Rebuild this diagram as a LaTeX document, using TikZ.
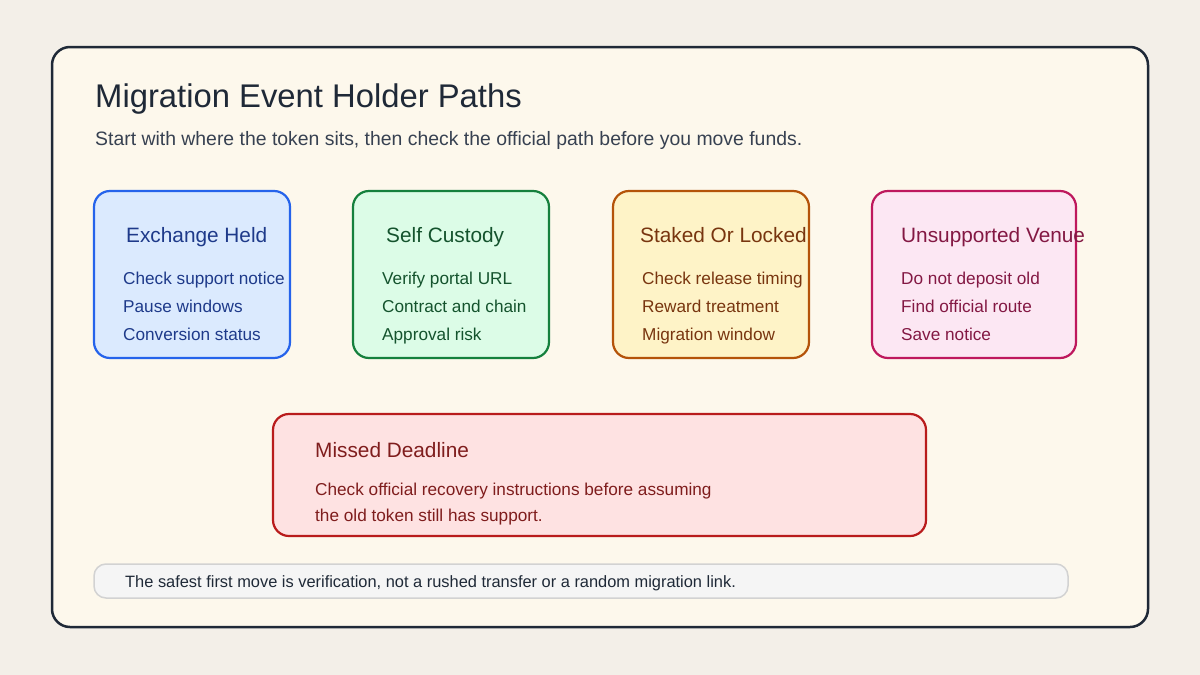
\documentclass[tikz,border=0pt]{standalone}
\usepackage{fontspec}
\setmainfont{Liberation Sans}
\definecolor{pagebg}{HTML}{F3EFE8}
\definecolor{cardbg}{HTML}{FDF8EC}
\definecolor{ink}{HTML}{1F2937}
\definecolor{subink}{HTML}{374151}
\tikzset{
  lane/.style={rounded corners=16pt,line width=2.2pt},
  head/.style={anchor=base west,inner sep=0pt,font=\fontsize{20.8}{24}\selectfont},
  item/.style={anchor=base west,inner sep=0pt,font=\fontsize{17.2}{20}\selectfont},
}
\begin{document}
\begin{tikzpicture}[x=1pt,y=-1pt]
   \fill[pagebg] (0,0) rectangle (1200,675);
   \draw[ink,line width=2.5pt,fill=cardbg,rounded corners=18pt] (52,47) rectangle (1148,627);
   \node[anchor=base west,inner sep=0pt,text=ink,font=\fontsize{32.8}{38}\selectfont] (title) at (95,107) {Migration Event Holder Paths};
   \node[anchor=base west,inner sep=0pt,text=subink,font=\fontsize{19.4}{23}\selectfont] (subtitle) at (95,145) {Start with where the token sits, then check the official path before you move funds.};
   % holder lanes
   \foreach \xa/\xb/\hx/\fc/\sc/\tc/\ttl/\ia/\ib/\ic/\nm in {
      94/290/32/DBEAFE/2563EB/1E3A8A/Exchange Held/Check support notice/Pause windows/Conversion status/exch,
      353/549/33/DCFCE7/15803D/14532D/Self Custody/Verify portal URL/Contract and chain/Approval risk/self,
      613/809/27/FEF3C7/B45309/78350F/Staked Or Locked/Check release timing/Reward treatment/Migration window/stake,
      872/1076/29/FCE7F3/BE185D/831843/Unsupported Venue/Do not deposit old/Find official route/Save notice/venue}{
     \definecolor{lf}{HTML}{\fc}\definecolor{ls}{HTML}{\sc}\definecolor{lt}{HTML}{\tc}
     \draw[lane,draw=ls,fill=lf] (\xa,191) rectangle (\xb,358);
     \node[head,text=lt] (\nm-h) at (\xa+\hx,242) {\ttl};
     \node[item,text=lt] (\nm-a) at (\xa+29,284) {\ia};
     \node[item,text=lt] (\nm-b) at (\xa+29,312) {\ib};
     \node[item,text=lt] (\nm-c) at (\xa+29,340) {\ic};
   }
   % missed deadline
   \definecolor{lf}{HTML}{FEE2E2}\definecolor{ls}{HTML}{B91C1C}\definecolor{lt}{HTML}{7F1D1D}
   \draw[lane,draw=ls,fill=lf] (273,414) rectangle (926,536);
   \node[head,text=lt] (miss-h) at (315,457) {Missed Deadline};
   \node[item,text=lt] (miss-a) at (315,495) {Check official recovery instructions before assuming};
   \node[item,text=lt] (miss-b) at (315,521) {the old token still has support.};
   % footer note
   \draw[draw=gray!35,fill=gray!8,line width=1.5pt,rounded corners=12pt] (94,564) rectangle (1068,598);
   \node[anchor=base west,inner sep=0pt,text=ink,font=\fontsize{16.4}{19}\selectfont] (note) at (125,587) {The safest first move is verification, not a rushed transfer or a random migration link.};
\end{tikzpicture}
\end{document}
